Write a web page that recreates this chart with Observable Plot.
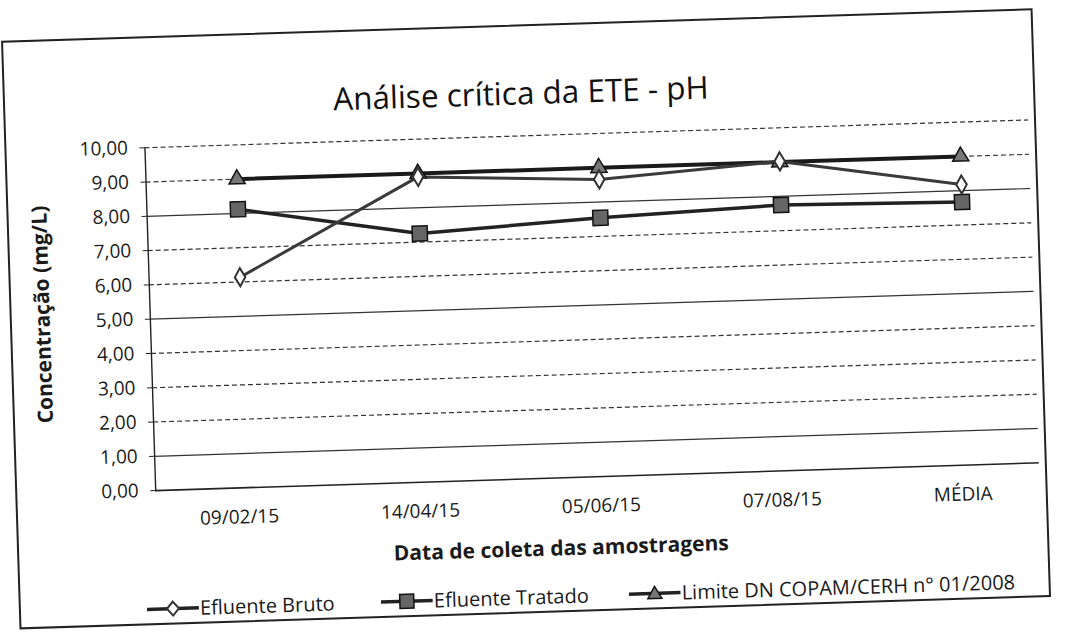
<!DOCTYPE html>
<html>
<head>
<meta charset="utf-8">
<script src="https://cdn.jsdelivr.net/npm/d3@7"></script>
<script src="https://cdn.jsdelivr.net/npm/@observablehq/plot@0.6"></script>
<style>
  html, body { margin: 0; padding: 0; background: #fff; }
  #page { position: relative; width: 1074px; height: 637px; overflow: hidden; background:#fff; }
  #rot { position: absolute; left: 0; top: 0; width: 1074px; height: 637px;
         transform: rotate(-1.8deg); transform-origin: 537px 318px; font-family: "Open Sans", sans-serif; color: #1a1a1a; }
  #frame { position: absolute; left: 10px; top: 24px; width: 1032px; height: 589px; border: 2px solid #222; box-sizing: border-box; }
  #title { position: absolute; left: 10px; width: 1036px; top: 72px; text-align: center; font-size: 31.5px; line-height: 40px; color: #111; }
  #chartclip { position: absolute; left: 0; top: 110px; width: 1034px; height: 460px; overflow: hidden; }
  #chartclip svg { max-width: none !important; width: 1074px; height: 460px; }
  #ytitle { position: absolute; left: 42px; top: 299px; transform: translate(-50%, -50%) rotate(-90deg); font-size: 21px; font-weight: bold; white-space: nowrap; }
  #xtitle { position: absolute; left: 0; width: 1074px; top: 533px; text-align: center; font-size: 21px; font-weight: bold; line-height: 30px; padding-left: 34px; box-sizing: border-box; }
  .leg { position: absolute; top: 583px; display: flex; align-items: center; font-size: 20px; white-space: nowrap; }
  .leg svg { margin-right: 1px; }
</style>
</head>
<body>
<div id="page"><div id="rot">
  <div id="frame"></div>
  <div id="title">Análise crítica da ETE - pH</div>
  <div id="chartclip"></div>
  <div id="ytitle">Concentração (mg/L)</div>
  <div id="xtitle">Data de coleta das amostragens</div>
  <div id="legend"></div>
</div></div>
<script>
// ---- data ----
const categorias = ["09/02/15", "14/04/15", "05/06/15", "07/08/15", "MÉDIA"];
const efluenteBruto = [6.14, 8.90, 8.66, 9.02, 8.18];
const efluenteTratado = [8.12, 7.25, 7.54, 7.75, 7.67];
const limiteCopam = [9.00, 9.00, 9.00, 9.00, 9.00];
const nomesSeries = ["Efluente Bruto", "Efluente Tratado", "Limite DN COPAM/CERH n° 01/2008"];
const yTicks = [0, 1, 2, 3, 4, 5, 6, 7, 8, 9, 10];

// ---- build table ----
const valores = [efluenteBruto, efluenteTratado, limiteCopam];
const rows = [];
valores.forEach((vals, s) => vals.forEach((v, i) => rows.push({cat: categorias[i], value: v, serie: nomesSeries[s]})));
const bySerie = name => rows.filter(r => r.serie === name);

const fmt = d => d.toFixed(2).replace(".", ",");
const solidGrid = new Set([1, 5, 8]);

const chart = Plot.plot({
  width: 1074,
  height: 460,
  marginLeft: 150,
  marginRight: 19,
  marginTop: 25,
  marginBottom: 92,
  style: {fontFamily: "Open Sans, sans-serif", fontSize: "19px", color: "#1a1a1a", background: "transparent", maxWidth: "none"},
  x: {type: "point", domain: categorias, padding: 0.5, axis: null},
  y: {domain: [0, 10], axis: null},
  marks: [
    Plot.ruleY(yTicks.filter(d => d > 0 && !solidGrid.has(d)), {stroke: "#333", strokeWidth: 1.2, strokeDasharray: "5,3"}),
    Plot.ruleY(yTicks.filter(d => solidGrid.has(d)), {stroke: "#333", strokeWidth: 1.2}),
    Plot.ruleY([0], {stroke: "#222", strokeWidth: 1.6}),
    Plot.frame({anchor: "left", stroke: "#222", strokeWidth: 1.4}),
    Plot.axisY({ticks: yTicks, tickFormat: fmt, tickSize: 5, tickPadding: 12, label: null, stroke: "#222"}),
    Plot.axisX({tickSize: 0, tickPadding: 22, dx: -8, label: null, fontSize: 19, style: {letterSpacing: "0.5px"}}),
    Plot.line(bySerie(nomesSeries[2]), {x: "cat", y: "value", stroke: "#1a1a1a", strokeWidth: 4}),
    Plot.line(bySerie(nomesSeries[1]), {x: "cat", y: "value", stroke: "#222", strokeWidth: 3.5}),
    Plot.line(bySerie(nomesSeries[0]), {x: "cat", y: "value", stroke: "#3a3a3a", strokeWidth: 3}),
    Plot.dot(bySerie(nomesSeries[2]), {x: "cat", y: "value", symbol: "triangle", r: 6, fill: "#777", stroke: "#111", strokeWidth: 1.5}),
    Plot.dot(bySerie(nomesSeries[1]), {x: "cat", y: "value", symbol: "square", r: 8.5, fill: "#666", stroke: "#111", strokeWidth: 1.5}),
    Plot.dot(bySerie(nomesSeries[0]), {x: "cat", y: "value", symbol: "diamond", r: 5.5, fill: "#fff", stroke: "#333", strokeWidth: 2})
  ]
});
chart.style.maxWidth = "none";
document.getElementById("chartclip").appendChild(chart);

// ---- legend ----
const legendPos = [138, 372, 620];
const legendSym = ["diamond", "square", "triangle"];
const legend = document.getElementById("legend");
nomesSeries.forEach((name, i) => {
  const item = document.createElement("div");
  item.className = "leg";
  item.style.left = legendPos[i] + "px";
  let marker = "";
  if (legendSym[i] === "diamond") marker = '<path d="M26,6 L32,13 L26,20 L20,13 Z" fill="#fff" stroke="#333" stroke-width="2"/>';
  if (legendSym[i] === "square") marker = '<rect x="19" y="6" width="14" height="14" fill="#666" stroke="#111" stroke-width="1.5"/>';
  if (legendSym[i] === "triangle") marker = '<path d="M26,6 L33,18 L19,18 Z" fill="#777" stroke="#111" stroke-width="1.5"/>';
  item.innerHTML = '<svg width="52" height="26"><line x1="0" y1="13" x2="52" y2="13" stroke="#222" stroke-width="3.5"/>' + marker + '</svg><span>' + name + '</span>';
  legend.appendChild(item);
});
</script>
</body>
</html>
